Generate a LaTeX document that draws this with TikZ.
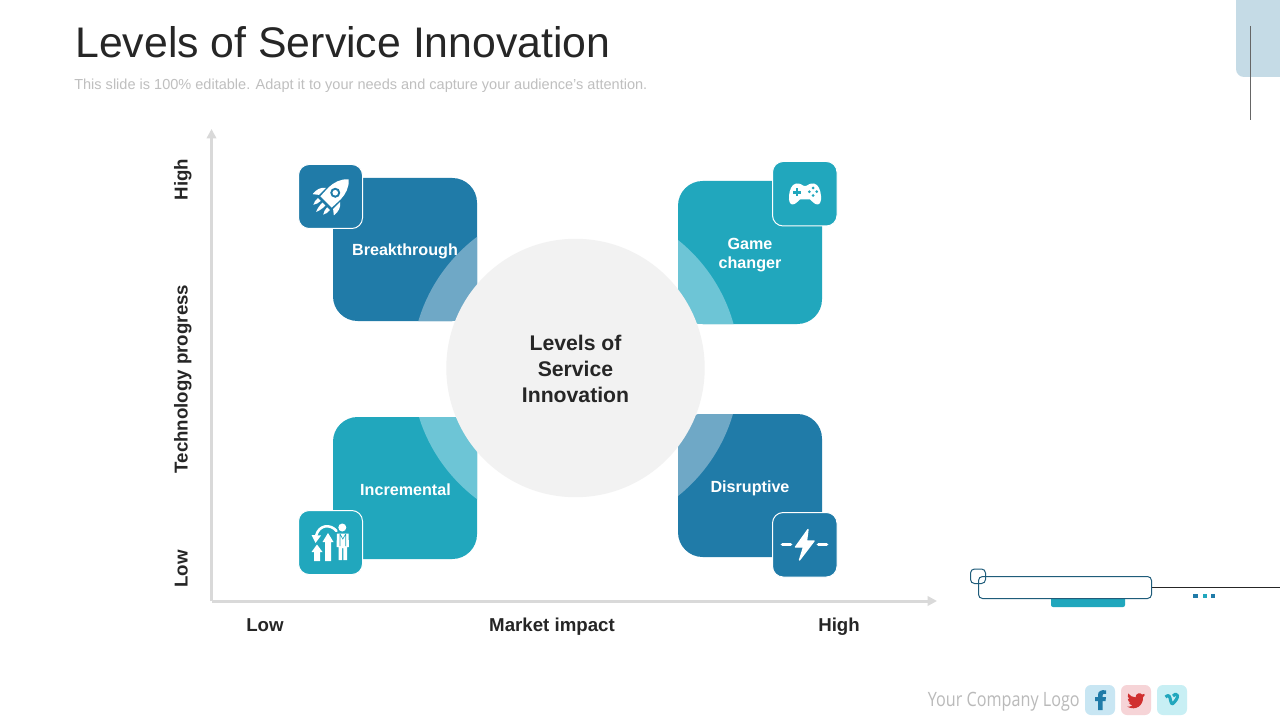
\documentclass[tikz,border=0pt]{standalone}
\usepackage{fontspec}
\setmainfont{Liberation Sans}
\newfontfamily\logofont[FakeStretch=0.82]{Open Sans}
\usetikzlibrary{arrows.meta}
\definecolor{dblue}{HTML}{207BA8}
\definecolor{teal1}{HTML}{21A7BD}
\definecolor{ringblue}{HTML}{6FA8C6}
\definecolor{ringteal}{HTML}{6DC5D6}
\definecolor{hub}{HTML}{F2F2F2}
\definecolor{axisgray}{HTML}{D9D9D9}
\definecolor{ink}{HTML}{262626}
\definecolor{wire}{HTML}{1F5C7A}
\tikzset{
  x=0.75pt,y=-0.75pt,
  axisline/.style={draw=axisgray,line width=2.25pt,-{Triangle[length=7pt,width=7pt]}},
  axislabel/.style={font=\bfseries\fontsize{14}{16}\selectfont,text=ink,inner sep=0pt,anchor=base},
  quadlabel/.style={font=\bfseries\fontsize{12.1}{14.3}\selectfont,text=white,align=center,inner sep=0pt},
  iconbox/.style={draw=white,line width=0.75pt,rounded corners=8pt},
  wirebox/.style={draw=wire,line width=0.75pt,rounded corners=3pt},
  social/.style={rounded corners=4.5pt},
  ico/.style={fill=white,draw=none},
  icol/.style={draw=white,line cap=round,line join=round},
}
\newcommand{\quadrant}[6]{% x0 y0 x1 y1 fill ring
  \path[fill=#5,rounded corners=18.5pt] (#1,#2) rectangle (#3,#4);
  \begin{scope}
    \clip[rounded corners=18.5pt] (#1,#2) rectangle (#3,#4);
    \fill[#6] (575.5,368) circle[radius=164];
  \end{scope}
}
\begin{document}
\begin{tikzpicture}
\useasboundingbox (0,0) rectangle (1280,720);
\fill[white] (0,0) rectangle (1280,720);

% header
\node[anchor=west,inner sep=0pt,text=ink,font=\fontsize{32.1}{38}\selectfont] (title) at (75,42) {Levels of Service Innovation};
\node[anchor=west,inner sep=0pt,text=black!25,font=\fontsize{10.9}{14}\selectfont] (subtitle) at (74,85.5) {This slide is 100\% editable. Adapt it to your needs and capture your audience's attention.};

% top-right tab
\path[fill={rgb,255:red,197;green,219;blue,230},rounded corners=6pt] (1236,-12) rectangle (1292,77);
\draw[draw=black!60,line width=0.75pt] (1250,26) coordinate (tabA) -- (1250,120) coordinate (tabB);

% axes
\coordinate (origin) at (211.5,601);
\coordinate (ytop) at (211.5,129);
\coordinate (xend) at (937,601);
\draw[axisline] (origin) -- (ytop);
\draw[axisline] (origin) -- (xend);
\node[axislabel,rotate=90] (yhigh) at (187.5,179.5) {High};
\node[axislabel,rotate=90] (ymid) at (187.5,379) {Technology progress};
\node[axislabel,rotate=90] (ylow) at (187.5,569) {Low};
\node[axislabel] (xlow) at (265,631) {Low};
\node[axislabel] (xmid) at (552,631) {Market impact};
\node[axislabel] (xhigh) at (839,631) {High};

% quadrants
\quadrant{333}{178}{477}{321}{dblue}{ringblue}
\quadrant{678}{181}{822}{324}{teal1}{ringteal}
\quadrant{333}{417}{477}{559}{teal1}{ringteal}
\quadrant{678}{414}{822}{557}{dblue}{ringblue}

% hub
\node[circle,fill=hub,minimum size=193.8pt,inner sep=0pt] (hubnode) at (575.5,368) {};
\node[font=\bfseries\fontsize{15.9}{19.2}\selectfont,text=ink,align=center,inner sep=0pt] (hubtext) at (575.5,369) {Levels of\\Service\\Innovation};

% quadrant labels
\node[quadlabel] (lab1) at (405,251.5) {Breakthrough};
\node[quadlabel] (lab2) at (750,255) {Game\\changer};
\node[quadlabel] (lab3) at (405.5,490) {Incremental};
\node[quadlabel] (lab4) at (750,488) {Disruptive};

% icon boxes
\path[iconbox,fill=dblue] (298.5,164.5) rectangle (362.5,228.5);
\path[iconbox,fill=teal1] (772.5,161.5) rectangle (837,226);
\path[iconbox,fill=teal1] (298.5,510.5) rectangle (362.5,574.5);
\path[iconbox,fill=dblue] (772.5,512.5) rectangle (837,577);

% rocket
\begin{scope}[shift={(331,197)},rotate=-45]
  \path[ico] (0,-25) .. controls (6,-20) and (8.5,-12) .. (8.5,-5) -- (8,7) -- (-8,7) -- (-8.5,-5) .. controls (-8.5,-12) and (-6,-20) .. (0,-25) -- cycle;
  \fill[dblue] (0,-6) circle[radius=5];
  \fill[white] (0,-6) circle[radius=2.8];
  \path[ico] (-10,-3) -- (-10,7) -- (-15,11) .. controls (-16,5) and (-14,0) .. (-10,-3) -- cycle;
  \path[ico] (10,-3) -- (10,7) -- (15,11) .. controls (16,5) and (14,0) .. (10,-3) -- cycle;
  \path[ico] (-2,10) -- (2,10) .. controls (2.3,15) and (1,19) .. (0,21) .. controls (-1,19) and (-2.3,15) .. (-2,10) -- cycle;
  \path[ico] (-8.5,10) -- (-4.5,10) .. controls (-4.5,13) and (-5.5,16) .. (-7,18) .. controls (-8,16) and (-9,13) .. (-8.5,10) -- cycle;
  \path[ico] (8.5,10) -- (4.5,10) .. controls (4.5,13) and (5.5,16) .. (7,18) .. controls (8,16) and (9,13) .. (8.5,10) -- cycle;
\end{scope}

% gamepad
\path[ico] (796,183.5) .. controls (800,183) and (802,185) .. (804,186) -- (806,186) .. controls (808,185) and (810,183) .. (814,183.5)
  .. controls (818.5,184.5) and (820.5,190) .. (821,196) .. controls (821.5,201) and (820,204.5) .. (817.5,204.5)
  .. controls (814.5,204.5) and (812,201) .. (810,199.5) -- (800,199.5)
  .. controls (798,201) and (795.5,204.5) .. (792.5,204.5) .. controls (790,204.5) and (788.5,201) .. (789,196)
  .. controls (789.5,190) and (791.5,184.5) .. (796,183.5) -- cycle;
\draw[teal1,line width=1.65pt] (793,192.5) -- (801,192.5) (797,188.5) -- (797,196.5);
\fill[teal1] (813,188) circle[radius=1.5] (813,195.5) circle[radius=1.5] (809.3,191.7) circle[radius=1.5] (816.7,191.7) circle[radius=1.5];

% incremental icon
\path[ico] (317,544.5) -- (322.5,552) -- (320,552) -- (320,561) -- (314,561) -- (314,552) -- (311.5,552) -- cycle;
\path[ico] (328,533) -- (333.5,542) -- (331,542) -- (331,561) -- (325,561) -- (325,542) -- (322.5,542) -- cycle;
\draw[icol,line width=1.9pt] (336.5,531) .. controls (331,524) and (319,524) .. (316,536);
\path[ico] (311.5,535) -- (321,535.5) -- (315.5,543) -- cycle;
\fill[white] (342.3,527.5) circle[radius=4];
\path[ico] (337,533.5) -- (348.5,533.5) -- (349,547) -- (347,547) -- (347,560) -- (343.4,560) -- (343.4,548) -- (342.2,548) -- (342.2,560) -- (338.6,560) -- (338.6,547) -- (336.5,547) -- cycle;
\draw[teal1,line width=0.5pt] (340,534) -- (340,546) (345.7,534) -- (345.7,546) (340,534) -- (342.8,539) -- (345.7,534);

% disruptive icon
\draw[icol,line width=2.8pt] (782.5,544.5) -- (790.5,544.5);
\draw[icol,line width=2.8pt] (818.5,544.5) -- (826.5,544.5);
\path[fill=white,draw=white,line width=1pt,line join=round] (808,529.5) -- (795.5,547) -- (803.5,547) -- (799.5,560) -- (814,541) -- (806.5,541) -- cycle;

% stray widgets, lower right
\draw[draw=ink,line width=0.75pt] (1151.5,587.5) coordinate (wireA) -- (1280,587.5) coordinate (wireB);
\path[fill=teal1,rounded corners=1.5pt] (1051,590) rectangle (1125,607);
\path[wirebox,fill=white] (978.5,576.5) rectangle (1151.5,598.5);
\path[wirebox] (970.5,569) rectangle (985.5,583.5);
\fill[dblue] (1193,594) rectangle (1198,598);
\fill[teal1] (1202.5,594) rectangle (1207,598);
\fill[dblue] (1210.5,594) rectangle (1215,598);

% logo
\node[anchor=east,inner sep=0pt,text=black!27,font=\logofont\fontsize{14.8}{17}\selectfont] (logo) at (1080,702) {Your Company Logo};
\path[social,fill={rgb,255:red,200;green,230;blue,243}] (1085,685) rectangle (1115,715);
\path[social,fill={rgb,255:red,246;green,212;blue,215}] (1121,685) rectangle (1151,715);
\path[social,fill={rgb,255:red,200;green,239;blue,244}] (1157,685) rectangle (1187,715);
\path[fill=dblue] (1098,710) -- (1102.5,710) -- (1102.5,701) -- (1105.5,701) -- (1106,697) -- (1102.5,697) -- (1102.5,695.5)
  .. controls (1102.5,694) and (1103.5,693.5) .. (1106,693.8) -- (1106,690.3)
  .. controls (1100.5,689.5) and (1098,691.5) .. (1098,695) -- (1098,697) -- (1095,697) -- (1095,701) -- (1098,701) -- cycle;
\begin{scope}[shift={(1136,700)},scale=0.87,shift={(-1136,-699.5)}]
\path[fill={rgb,255:red,208;green,47;blue,47}] (1145.5,692.5) .. controls (1144.5,693) and (1143.5,693.2) .. (1143,693.2)
  .. controls (1141,690.5) and (1135.5,691.5) .. (1135.5,696.5)
  .. controls (1132,696.5) and (1129,694.5) .. (1127,692)
  .. controls (1126,694.5) and (1126.5,697) .. (1128.5,698.5)
  .. controls (1127.5,698.5) and (1127,698.2) .. (1126.5,698)
  .. controls (1126.5,700.5) and (1128,702) .. (1130,702.5)
  .. controls (1129.3,702.8) and (1128.5,702.8) .. (1127.8,702.6)
  .. controls (1128.5,704.5) and (1130,705.3) .. (1132,705.5)
  .. controls (1130.3,706.8) and (1128.2,707.5) .. (1126,707.2)
  .. controls (1136,712.5) and (1144.5,705.5) .. (1144,696.5)
  .. controls (1144.8,696) and (1145.5,695) .. (1146,694) -- cycle;
\end{scope}
\draw[teal1,line width=2.3pt,line join=round] (1165.5,697) .. controls (1168,695) and (1169,695) .. (1170,698) .. controls (1171,702) and (1171.5,705) .. (1173,703.5) .. controls (1175,701.5) and (1178,698) .. (1177.5,695.5) .. controls (1177,693.5) and (1174,693.5) .. (1173,696);
\end{tikzpicture}
\end{document}
